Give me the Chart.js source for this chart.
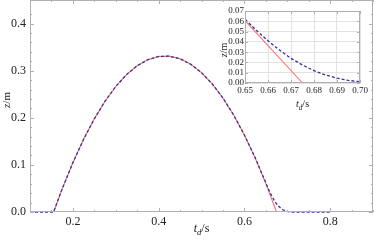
<!DOCTYPE html>
<html>
<head>
<meta charset="utf-8">
<script src="https://cdn.jsdelivr.net/npm/chart.js@4/dist/chart.umd.min.js"></script>
<style>
  body { margin: 0; background: #fff; }
  #wrap { position: relative; width: 374px; height: 241px; background: #fff; }
  #main { position: absolute; left: 0; top: 0; }
  #inset { position: absolute; left: 219px; top: 4px; }
</style>
</head>
<body>
<div id="wrap">
  <canvas id="main" width="374" height="241"></canvas>
  <canvas id="inset" width="156" height="106"></canvas>
</div>
<script>
// free-flight (red) solution, t_d in s, z in m
const tRed = [0.155, 0.175, 0.2, 0.225, 0.25, 0.275, 0.3, 0.325, 0.35, 0.375, 0.4, 0.425,
              0.45, 0.475, 0.5, 0.525, 0.55, 0.575, 0.6, 0.625, 0.65, 0.675];
const zRed = [0, 0.049, 0.1047, 0.1544, 0.1978, 0.2352, 0.2664, 0.2916, 0.3105, 0.3234, 0.3301, 0.3308,
              0.3252, 0.3136, 0.2958, 0.272, 0.2419, 0.2058, 0.1635, 0.1152, 0.0606, 0];

// full (blue dashed) solution
const tBlue = [0.1, 0.155, 0.175, 0.2, 0.225, 0.25, 0.275, 0.3, 0.325, 0.35, 0.375, 0.4, 0.425,
               0.45, 0.475, 0.5, 0.525, 0.55, 0.575, 0.6, 0.625, 0.65, 0.655, 0.66, 0.665, 0.67,
               0.675, 0.68, 0.685, 0.69, 0.695, 0.7, 0.705, 0.71, 0.8];
const zBlue = [0, 0, 0.049, 0.1047, 0.1544, 0.1978, 0.2352, 0.2664, 0.2916, 0.3105, 0.3234, 0.3301, 0.3308,
               0.3252, 0.3136, 0.2958, 0.272, 0.2419, 0.2058, 0.1635, 0.1154, 0.062, 0.051, 0.041, 0.032, 0.024,
               0.0175, 0.012, 0.0078, 0.0047, 0.0025, 0.0012, 0.0004, 0, 0];

const blueColor = '#34349a';
const redColor = '#ff6f6f';
const frameColor = '#b0b0b0';
const textColor = '#222';
const serif = '"Liberation Serif", "DejaVu Serif", serif';

const toPoints = (xs, ys) => xs.map((x, i) => ({ x: x, y: ys[i] }));

function isMajor(v, step) {
    const r = v / step;
    return Math.abs(r - Math.round(r)) < 1e-6;
}

// draws "t_d/s" style labels from parts
function drawParts(ctx, parts, cx, cy, size) {
    const sub = size * 0.72;
    const fontOf = p => (p.italic ? 'italic ' : '') + (p.sub ? sub : size) + 'px ' + serif;
    let total = 0;
    parts.forEach(p => { ctx.font = fontOf(p); total += ctx.measureText(p.text).width; });
    let x = cx - total / 2;
    parts.forEach(p => {
        ctx.font = fontOf(p);
        ctx.fillText(p.text, x, cy + (p.sub ? size * 0.28 : 0));
        x += ctx.measureText(p.text).width;
    });
}

const framePlugin = {
    id: 'frame',
    afterDatasetsDraw(chart, args, o) {
        const { ctx, chartArea: a } = chart;
        const x = chart.scales.x, y = chart.scales.y;
        ctx.save();
        ctx.strokeStyle = frameColor;
        ctx.lineWidth = 1;
        ctx.strokeRect(a.left + 0.5, a.top + 0.5, a.right - a.left - 1, a.bottom - a.top - 1);
        ctx.beginPath();
        x.ticks.forEach(t => {
            const px = Math.round(x.getPixelForValue(t.value)) + 0.5;
            const len = isMajor(t.value, o.xMajor) ? o.major : o.minor;
            ctx.moveTo(px, a.bottom); ctx.lineTo(px, a.bottom - len);
            ctx.moveTo(px, a.top); ctx.lineTo(px, a.top + len);
        });
        y.ticks.forEach(t => {
            const py = Math.round(y.getPixelForValue(t.value)) + 0.5;
            const len = isMajor(t.value, o.yMajor) ? o.major : o.minor;
            ctx.moveTo(a.left, py); ctx.lineTo(a.left + len, py);
            ctx.moveTo(a.right, py); ctx.lineTo(a.right - len, py);
        });
        ctx.stroke();

        // axis titles
        ctx.fillStyle = textColor;
        ctx.textBaseline = 'alphabetic';
        drawParts(ctx, [{ text: 't', italic: true }, { text: 'd', italic: true, sub: true }, { text: '/s' }],
            (a.left + a.right) / 2, o.xTitleY, o.titleSize);
        ctx.save();
        ctx.translate(o.yTitleX, o.yTitleY);
        ctx.rotate(-Math.PI / 2);
        drawParts(ctx, [{ text: 'z', italic: true }, { text: '/m' }], 0, o.yTitleSize * 0.33, o.yTitleSize);
        ctx.restore();
        ctx.restore();
    }
};

function makeDatasets() {
    const clip = { left: 0, top: 0, right: 0, bottom: 3 };
    return [
        {
            label: 'full',
            data: toPoints(tBlue, zBlue),
            borderColor: blueColor,
            borderWidth: 1.3,
            borderDash: [3, 2],
            pointRadius: 0,
            tension: 0,
            clip: clip,
            fill: false
        },
        {
            label: 'free flight',
            data: toPoints(tRed, zRed),
            borderColor: redColor,
            borderWidth: 1.1,
            pointRadius: 0,
            tension: 0,
            clip: clip,
            fill: false
        }
    ];
}

const noPad = s => { s.paddingTop = 0; s.paddingBottom = 0; s.paddingLeft = 0; s.paddingRight = 0; };

// main plot
new Chart(document.getElementById('main'), {
    type: 'line',
    data: { datasets: makeDatasets() },
    options: {
        responsive: false,
        animation: false,
        devicePixelRatio: 1,
        layout: { padding: { top: 0, right: 1, left: 0, bottom: 0 } },
        plugins: {
            legend: { display: false },
            tooltip: { enabled: false },
            frame: { xMajor: 0.2, yMajor: 0.1, major: 4, minor: 2, xTitleY: 232, titleSize: 12,
                     yTitleX: 6.5, yTitleY: 100, yTitleSize: 11 }
        },
        scales: {
            x: {
                type: 'linear',
                min: 0.1,
                max: 0.9,
                grid: { display: false, drawTicks: false },
                border: { display: false },
                afterFit: s => { s.height = 29; noPad(s); },
                ticks: {
                    stepSize: 0.05,
                    autoSkip: false,
                    maxRotation: 0,
                    padding: 3,
                    color: textColor,
                    font: { family: serif, size: 12 },
                    callback: v => (isMajor(v, 0.2) && v > 0.15 && v < 0.85) ? v.toFixed(1) : ''
                }
            },
            y: {
                type: 'linear',
                min: 0,
                max: 0.45,
                grid: { display: false, drawTicks: false },
                border: { display: false },
                afterFit: s => { s.width = 30; noPad(s); },
                ticks: {
                    stepSize: 0.02,
                    autoSkip: false,
                    padding: 4,
                    color: textColor,
                    font: { family: serif, size: 12 },
                    callback: v => (isMajor(v, 0.1) && v < 0.42) ? v.toFixed(1) : ''
                }
            }
        }
    },
    plugins: [framePlugin]
});

// inset zoom near landing
new Chart(document.getElementById('inset'), {
    type: 'line',
    data: { datasets: makeDatasets() },
    options: {
        responsive: false,
        animation: false,
        devicePixelRatio: 1,
        layout: { padding: { top: 7, right: 15, left: 0, bottom: 0 } },
        plugins: {
            legend: { display: false },
            tooltip: { enabled: false },
            frame: { xMajor: 0.01, yMajor: 0.01, major: 3, minor: 3, xTitleY: 103, titleSize: 10,
                     yTitleX: 4.5, yTitleY: 46, yTitleSize: 10 }
        },
        scales: {
            x: {
                type: 'linear',
                min: 0.65,
                max: 0.7,
                grid: { color: '#e2e2e2', drawTicks: false },
                border: { display: false },
                afterFit: s => { s.height = 27; noPad(s); },
                ticks: {
                    stepSize: 0.01,
                    autoSkip: false,
                    maxRotation: 0,
                    padding: 2,
                    color: textColor,
                    font: { family: serif, size: 9 },
                    callback: v => v.toFixed(2)
                }
            },
            y: {
                type: 'linear',
                min: 0,
                max: 0.07,
                grid: { color: '#e2e2e2', drawTicks: false },
                border: { display: false },
                afterFit: s => { s.width = 26; noPad(s); },
                ticks: {
                    stepSize: 0.01,
                    autoSkip: false,
                    padding: 1,
                    color: textColor,
                    font: { family: serif, size: 9 },
                    callback: v => v.toFixed(2)
                }
            }
        }
    },
    plugins: [framePlugin]
});
</script>
</body>
</html>
